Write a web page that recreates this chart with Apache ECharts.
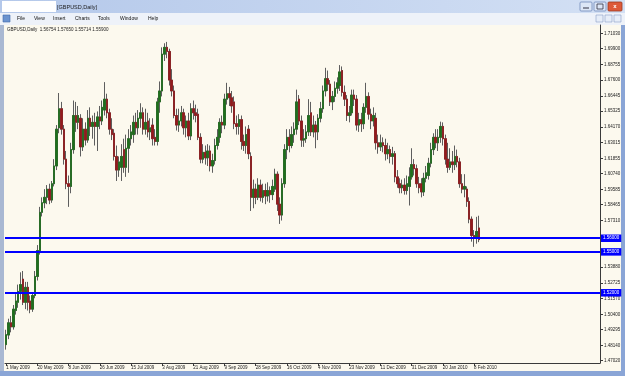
<!DOCTYPE html>
<html><head><meta charset="utf-8">
<script src="https://cdn.jsdelivr.net/npm/echarts@6/dist/echarts.min.js"></script>
<style>html,body{margin:0;padding:0;background:#8aa5d6}#c{width:625px;height:376px}</style>
</head><body><div id="c"></div>
<script>
const symbolName = 'GBPUSD,Daily';
const windowTitle = '[GBPUSD,Daily]';
const menuItems = ['File','View','Insert','Charts','Tools','Window','Help'];

const openVals = [
1.4820,1.4890,1.4980,1.4950,1.5070,1.5130,1.5210,1.5300,1.5130,1.5240,
1.5140,1.5080,1.5180,1.5320,1.5510,1.5790,1.5860,1.5900,1.5960,1.5880,
1.6000,1.6130,1.6410,1.6550,1.6400,1.6180,1.6000,1.5980,1.6250,1.6500,
1.6450,1.6480,1.6270,1.6400,1.6320,1.6480,1.6420,1.6450,1.6420,1.6490,
1.6460,1.6540,1.6620,1.6520,1.6400,1.6370,1.6200,1.6100,1.6120,1.6250,
1.6120,1.6260,1.6330,1.6360,1.6450,1.6410,1.6480,1.6520,1.6400,1.6460,
1.6380,1.6430,1.6340,1.6310,1.6600,1.6680,1.6950,1.7000,1.6970,1.6760,
1.6680,1.6500,1.6430,1.6460,1.6520,1.6410,1.6460,1.6350,1.6550,1.6520,
1.6510,1.6340,1.6180,1.6230,1.6190,1.6240,1.6130,1.6170,1.6280,1.6340,
1.6450,1.6430,1.6620,1.6660,1.6630,1.6600,1.6440,1.6420,1.6470,1.6310,
1.6280,1.6400,1.6200,1.5900,1.5960,1.5900,1.5990,1.5900,1.5950,1.5910,
1.5950,1.5920,1.5960,1.6070,1.5850,1.5770,1.6000,1.6250,1.6340,1.6280,
1.6360,1.6400,1.6620,1.6460,1.6320,1.6330,1.6380,1.6520,1.6380,1.6430,
1.6380,1.6480,1.6550,1.6680,1.6770,1.6730,1.6600,1.6640,1.6700,1.6720,
1.6830,1.6670,1.6620,1.6500,1.6520,1.6650,1.6620,1.6430,1.6470,1.6440,
1.6560,1.6640,1.6510,1.6460,1.6480,1.6300,1.6270,1.6300,1.6280,1.6220,
1.6250,1.6200,1.6220,1.6050,1.6000,1.5970,1.5990,1.5950,1.5980,1.6050,
1.6140,1.6110,1.6000,1.6000,1.5940,1.6040,1.6060,1.6150,1.6250,1.6340,
1.6300,1.6340,1.6420,1.6330,1.6180,1.6120,1.6160,1.6140,1.6200,1.6160,
1.6000,1.5960,1.5960,1.5870,1.5740,1.5620,1.5600,1.56754];

const highVals = [
1.4929,1.5010,1.5030,1.5110,1.5190,1.5260,1.5350,1.5360,1.5280,1.5280,
1.5180,1.5200,1.5360,1.5550,1.5830,1.5900,1.5960,1.5990,1.6000,1.6020,
1.6180,1.6430,1.6665,1.6600,1.6430,1.6240,1.6060,1.6300,1.6610,1.6600,
1.6570,1.6510,1.6480,1.6450,1.6540,1.6560,1.6500,1.6520,1.6530,1.6570,
1.6610,1.6745,1.6660,1.6550,1.6480,1.6400,1.6280,1.6200,1.6290,1.6330,
1.6360,1.6400,1.6430,1.6500,1.6520,1.6540,1.6590,1.6560,1.6550,1.6520,
1.6480,1.6480,1.6400,1.6630,1.6750,1.7000,1.7030,1.7040,1.6990,1.6840,
1.6720,1.6550,1.6550,1.6570,1.6550,1.6500,1.6520,1.6590,1.6610,1.6580,
1.6550,1.6370,1.6290,1.6280,1.6290,1.6280,1.6220,1.6330,1.6400,1.6480,
1.6500,1.6660,1.6740,1.6710,1.6680,1.6640,1.6500,1.6510,1.6500,1.6360,
1.6420,1.6430,1.6230,1.6030,1.6000,1.6040,1.6030,1.6000,1.6000,1.6010,
1.5980,1.6030,1.6110,1.6090,1.5900,1.6040,1.6290,1.6400,1.6400,1.6420,
1.6450,1.6690,1.6650,1.6500,1.6400,1.6430,1.6620,1.6600,1.6500,1.6460,
1.6510,1.6600,1.6720,1.6850,1.6830,1.6760,1.6680,1.6750,1.6780,1.6870,
1.6860,1.6720,1.6650,1.6570,1.6690,1.6690,1.6650,1.6520,1.6520,1.6590,
1.6740,1.6670,1.6550,1.6560,1.6520,1.6360,1.6360,1.6340,1.6330,1.6300,
1.6280,1.6270,1.6240,1.6100,1.6040,1.6030,1.6040,1.6060,1.6120,1.6260,
1.6180,1.6140,1.6050,1.6040,1.6080,1.6130,1.6190,1.6300,1.6370,1.6400,
1.6400,1.6455,1.6450,1.6360,1.6300,1.6260,1.6240,1.6280,1.6250,1.6190,
1.6070,1.6070,1.5980,1.5900,1.5760,1.5660,1.5757,1.57650];

const lowVals = [
1.4783,1.4860,1.4910,1.4930,1.5040,1.5090,1.5150,1.5110,1.5080,1.5070,
1.5050,1.5060,1.5160,1.5290,1.5480,1.5760,1.5820,1.5850,1.5850,1.5860,
1.5980,1.6100,1.6370,1.6360,1.6140,1.5960,1.5830,1.5930,1.6220,1.6380,
1.6400,1.6200,1.6240,1.6280,1.6300,1.6350,1.6330,1.6280,1.6240,1.6400,
1.6430,1.6500,1.6480,1.6360,1.6320,1.6170,1.6020,1.6050,1.6020,1.6080,
1.6050,1.6080,1.6280,1.6300,1.6360,1.6360,1.6410,1.6360,1.6360,1.6340,
1.6320,1.6280,1.6280,1.6280,1.6520,1.6640,1.6900,1.6920,1.6720,1.6640,
1.6480,1.6390,1.6380,1.6420,1.6360,1.6340,1.6320,1.6320,1.6470,1.6450,
1.6320,1.6150,1.6150,1.6140,1.6130,1.6090,1.6080,1.6140,1.6250,1.6300,
1.6370,1.6400,1.6580,1.6570,1.6520,1.6400,1.6360,1.6360,1.6250,1.6240,
1.6220,1.6180,1.5800,1.5820,1.5850,1.5880,1.5870,1.5860,1.5850,1.5870,
1.5860,1.5880,1.5940,1.5800,1.5705,1.5730,1.5970,1.6180,1.6230,1.6260,
1.6300,1.6360,1.6430,1.6270,1.6270,1.6300,1.6350,1.6350,1.6340,1.6260,
1.6320,1.6450,1.6520,1.6640,1.6680,1.6570,1.6540,1.6600,1.6660,1.6680,
1.6640,1.6570,1.6460,1.6450,1.6500,1.6570,1.6390,1.6380,1.6380,1.6400,
1.6520,1.6470,1.6400,1.6420,1.6250,1.6220,1.6240,1.6230,1.6170,1.6180,
1.6150,1.6140,1.6010,1.5970,1.5930,1.5930,1.5920,1.5920,1.5840,1.6030,
1.6060,1.5970,1.5930,1.5900,1.5910,1.6010,1.6030,1.6120,1.6210,1.6260,
1.6240,1.6300,1.6280,1.6140,1.6080,1.6100,1.6080,1.6100,1.6120,1.5970,
1.5930,1.5900,1.5830,1.5710,1.5575,1.5537,1.5560,1.55714];

const closeVals = [
1.4893,1.4980,1.4950,1.5080,1.5140,1.5210,1.5260,1.5130,1.5240,1.5130,
1.5080,1.5180,1.5320,1.5510,1.5790,1.5860,1.5900,1.5960,1.5880,1.6000,
1.6130,1.6400,1.6550,1.6400,1.6180,1.6000,1.5980,1.6250,1.6500,1.6450,
1.6500,1.6270,1.6400,1.6320,1.6480,1.6420,1.6450,1.6420,1.6490,1.6460,
1.6560,1.6620,1.6520,1.6400,1.6360,1.6200,1.6100,1.6160,1.6200,1.6120,
1.6260,1.6330,1.6380,1.6450,1.6410,1.6480,1.6520,1.6400,1.6450,1.6380,
1.6410,1.6330,1.6310,1.6600,1.6680,1.6950,1.7000,1.6970,1.6760,1.6680,
1.6500,1.6430,1.6460,1.6520,1.6410,1.6460,1.6350,1.6550,1.6520,1.6500,
1.6340,1.6180,1.6230,1.6190,1.6240,1.6130,1.6170,1.6280,1.6340,1.6450,
1.6430,1.6620,1.6660,1.6630,1.6570,1.6440,1.6420,1.6470,1.6310,1.6280,
1.6360,1.6220,1.5900,1.5960,1.5900,1.5990,1.5900,1.5950,1.5910,1.5950,
1.5920,1.5980,1.6070,1.5850,1.5770,1.6000,1.6250,1.6340,1.6280,1.6360,
1.6400,1.6600,1.6460,1.6320,1.6330,1.6380,1.6500,1.6380,1.6430,1.6380,
1.6480,1.6550,1.6680,1.6770,1.6730,1.6600,1.6640,1.6700,1.6740,1.6820,
1.6670,1.6620,1.6500,1.6520,1.6650,1.6620,1.6430,1.6470,1.6440,1.6560,
1.6640,1.6510,1.6460,1.6500,1.6300,1.6270,1.6300,1.6280,1.6220,1.6250,
1.6200,1.6220,1.6050,1.6000,1.5970,1.5990,1.5950,1.6000,1.6050,1.6140,
1.6110,1.6000,1.5970,1.5940,1.6040,1.6080,1.6150,1.6250,1.6340,1.6300,
1.6340,1.6420,1.6330,1.6180,1.6120,1.6160,1.6140,1.6200,1.6160,1.6000,
1.5960,1.5980,1.5870,1.5740,1.5620,1.5600,1.5650,1.55900];

const xTickLabels = ['1 May 2009','20 May 2009','8 Jun 2009','26 Jun 2009','15 Jul 2009','3 Aug 2009',
  '21 Aug 2009','9 Sep 2009','28 Sep 2009','16 Oct 2009','4 Nov 2009','23 Nov 2009','11 Dec 2009',
  '31 Dec 2009','20 Jan 2010','8 Feb 2010'];
const xTickStep = 13;
const yTickValues = [1.71030,1.69900,1.68755,1.67600,1.66445,1.65325,1.64170,1.63015,1.61855,1.60740,
  1.59585,1.58465,1.57310,1.53880,1.52725,1.51570,1.50400,1.49295,1.48140,1.47020];
const levelValues = [1.56000, 1.55000, 1.52000];
const missingDays = ['2009-06-12','2009-08-14','2009-10-09','2009-11-26','2009-12-25','2010-01-01'];
const totalSlots = 248;

// categories: trading days from 1 May 2009 (plus empty right margin slots)
const monthNames = ['Jan','Feb','Mar','Apr','May','Jun','Jul','Aug','Sep','Oct','Nov','Dec'];
const categories = [];
let d = new Date(Date.UTC(2009, 4, 1));
while (categories.length < totalSlots) {
  const dow = d.getUTCDay();
  const iso = d.toISOString().slice(0, 10);
  if (dow !== 0 && dow !== 6 && !missingDays.includes(iso)) {
    categories.push(d.getUTCDate() + ' ' + monthNames[d.getUTCMonth()] + ' ' + d.getUTCFullYear());
  }
  d = new Date(d.getTime() + 86400000);
}

const n = openVals.length;
const ohlc = openVals.map((o, i) => [o, closeVals[i], lowVals[i], highVals[i]]);
const bodies = openVals.map((o, i) => [o, closeVals[i], Math.min(o, closeVals[i]), Math.max(o, closeVals[i])]);
const last = n - 1;
const headerText = symbolName + '  ' + [openVals[last], highVals[last], lowVals[last], closeVals[last]].map(v => v.toFixed(5)).join(' ');

const showTick = (idx) => idx % xTickStep === 0 && idx / xTickStep < xTickLabels.length;
const FONT = 'Liberation Sans';
const GREEN = '#1f6f1c', RED = '#941a1c', WICK = '#5e5e5e';

const chart = echarts.init(document.getElementById('c'), null, {renderer: 'canvas'});

const menuX = [17, 34, 53, 75, 98, 120, 148];
const menuTexts = menuItems.map((m, i) => ({
  type: 'text', x: menuX[i], y: 19, style: {text: m, fontSize: 5, fontFamily: FONT, fill: '#111', verticalAlign: 'middle'}
}));

chart.setOption({
  animation: false,
  backgroundColor: '#8aa5d6',
  graphic: [{
    type: 'group', z: -1, children: [
      {type: 'rect', shape: {x: 0, y: 0, width: 625, height: 13},
        style: {fill: new echarts.graphic.LinearGradient(0, 0, 1, 0, [{offset: 0, color: '#b4c8ea'}, {offset: 1, color: '#d3e0f4'}])}},
      {type: 'rect', shape: {x: 2, y: 1, width: 54, height: 11}, style: {fill: '#ffffff'}},
      {type: 'text', x: 57, y: 7, style: {text: windowTitle, fontSize: 5.5, fontFamily: FONT, fill: '#1a1a1a', verticalAlign: 'middle'}},
      {type: 'rect', shape: {x: 580, y: 2, width: 12, height: 9, r: 1}, style: {fill: '#dce6f6', stroke: '#6f89b9', lineWidth: 0.8}},
      {type: 'rect', shape: {x: 594, y: 2, width: 12, height: 9, r: 1}, style: {fill: '#dce6f6', stroke: '#6f89b9', lineWidth: 0.8}},
      {type: 'rect', shape: {x: 608, y: 2, width: 14, height: 9, r: 1}, style: {fill: '#dd5a3a', stroke: '#9c3a22', lineWidth: 0.8}},
      {type: 'rect', shape: {x: 583, y: 7.5, width: 6, height: 1}, style: {fill: '#334'}},
      {type: 'rect', shape: {x: 597, y: 4, width: 6, height: 5}, style: {fill: 'none', stroke: '#334', lineWidth: 0.8}},
      {type: 'text', x: 615, y: 6.5, style: {text: 'x', fontSize: 6, fontFamily: FONT, fill: '#fff', align: 'center', verticalAlign: 'middle', fontWeight: 'bold'}},
      {type: 'rect', shape: {x: 0, y: 13, width: 625, height: 12}, style: {fill: '#eef2f9'}},
      {type: 'rect', shape: {x: 3, y: 15, width: 7, height: 7}, style: {fill: '#6b93cf', stroke: '#3f6aa8', lineWidth: 0.6}},
      ...menuTexts,
      {type: 'rect', shape: {x: 596, y: 15, width: 7, height: 7}, style: {fill: '#e6edf8', stroke: '#8aa0c8', lineWidth: 0.6}},
      {type: 'rect', shape: {x: 605, y: 15, width: 7, height: 7}, style: {fill: '#e6edf8', stroke: '#8aa0c8', lineWidth: 0.6}},
      {type: 'rect', shape: {x: 614, y: 15, width: 7, height: 7}, style: {fill: '#e6edf8', stroke: '#8aa0c8', lineWidth: 0.6}},
      {type: 'rect', shape: {x: 0, y: 25, width: 4, height: 346}, style: {fill: '#a9b8d2'}},
      {type: 'rect', shape: {x: 4, y: 25, width: 617, height: 346}, style: {fill: '#fcf9ee'}}
    ]
  }, {
    type: 'text', x: 7, y: 29.5, z: 10,
    style: {text: headerText, fontSize: 4.5, fontFamily: FONT, fill: '#222', verticalAlign: 'middle'}
  }],
  grid: {left: 5, top: 25, width: 595, height: 338, show: true, borderColor: '#3a3a3a', borderWidth: 1, backgroundColor: 'transparent'},
  xAxis: {
    type: 'category', data: categories, boundaryGap: true,
    axisLine: {show: true, lineStyle: {color: '#3a3a3a', width: 1}},
    axisTick: {show: true, alignWithLabel: true, length: 3, interval: showTick, lineStyle: {color: '#3a3a3a'}},
    axisLabel: {show: true, interval: showTick, align: 'left', margin: 2, fontSize: 4.5, fontFamily: FONT, color: '#222',
      formatter: (v, i) => xTickLabels[i / xTickStep] || ''},
    splitLine: {show: false}
  },
  yAxis: {
    type: 'value', position: 'right', min: 1.46851, max: 1.71639, scale: true,
    splitLine: {show: false},
    axisLine: {show: true, lineStyle: {color: '#3a3a3a'}},
    axisTick: {show: true, length: 3, customValues: yTickValues, lineStyle: {color: '#3a3a3a'}},
    axisLabel: {show: true, customValues: yTickValues, margin: 4, fontSize: 4.5, fontFamily: FONT, color: '#222',
      formatter: v => v.toFixed(5)}
  },
  series: [{
    name: 'range', type: 'candlestick', data: ohlc, barWidth: 2, z: 2, silent: true,
    itemStyle: {color: WICK, color0: WICK, borderColor: WICK, borderColor0: WICK, borderWidth: 1}
  }, {
    name: symbolName, type: 'candlestick', data: bodies, barWidth: 2, z: 3, silent: true,
    itemStyle: {color: GREEN, color0: RED, borderColor: GREEN, borderColor0: RED, borderWidth: 0.7},
    markLine: {
      silent: true, symbol: ['none', 'none'], animation: false,
      lineStyle: {color: '#0000ff', width: 2, type: 'solid'},
      label: {show: true, position: 'end', distance: 1, formatter: p => Number(p.value).toFixed(5),
        color: '#ffffff', backgroundColor: '#0000ff', fontSize: 4.5, fontFamily: FONT, padding: [1.5, 2, 1, 2]},
      emphasis: {disabled: true},
      data: levelValues.map(v => ({yAxis: v}))
    }
  }]
});
</script>
</body></html>
